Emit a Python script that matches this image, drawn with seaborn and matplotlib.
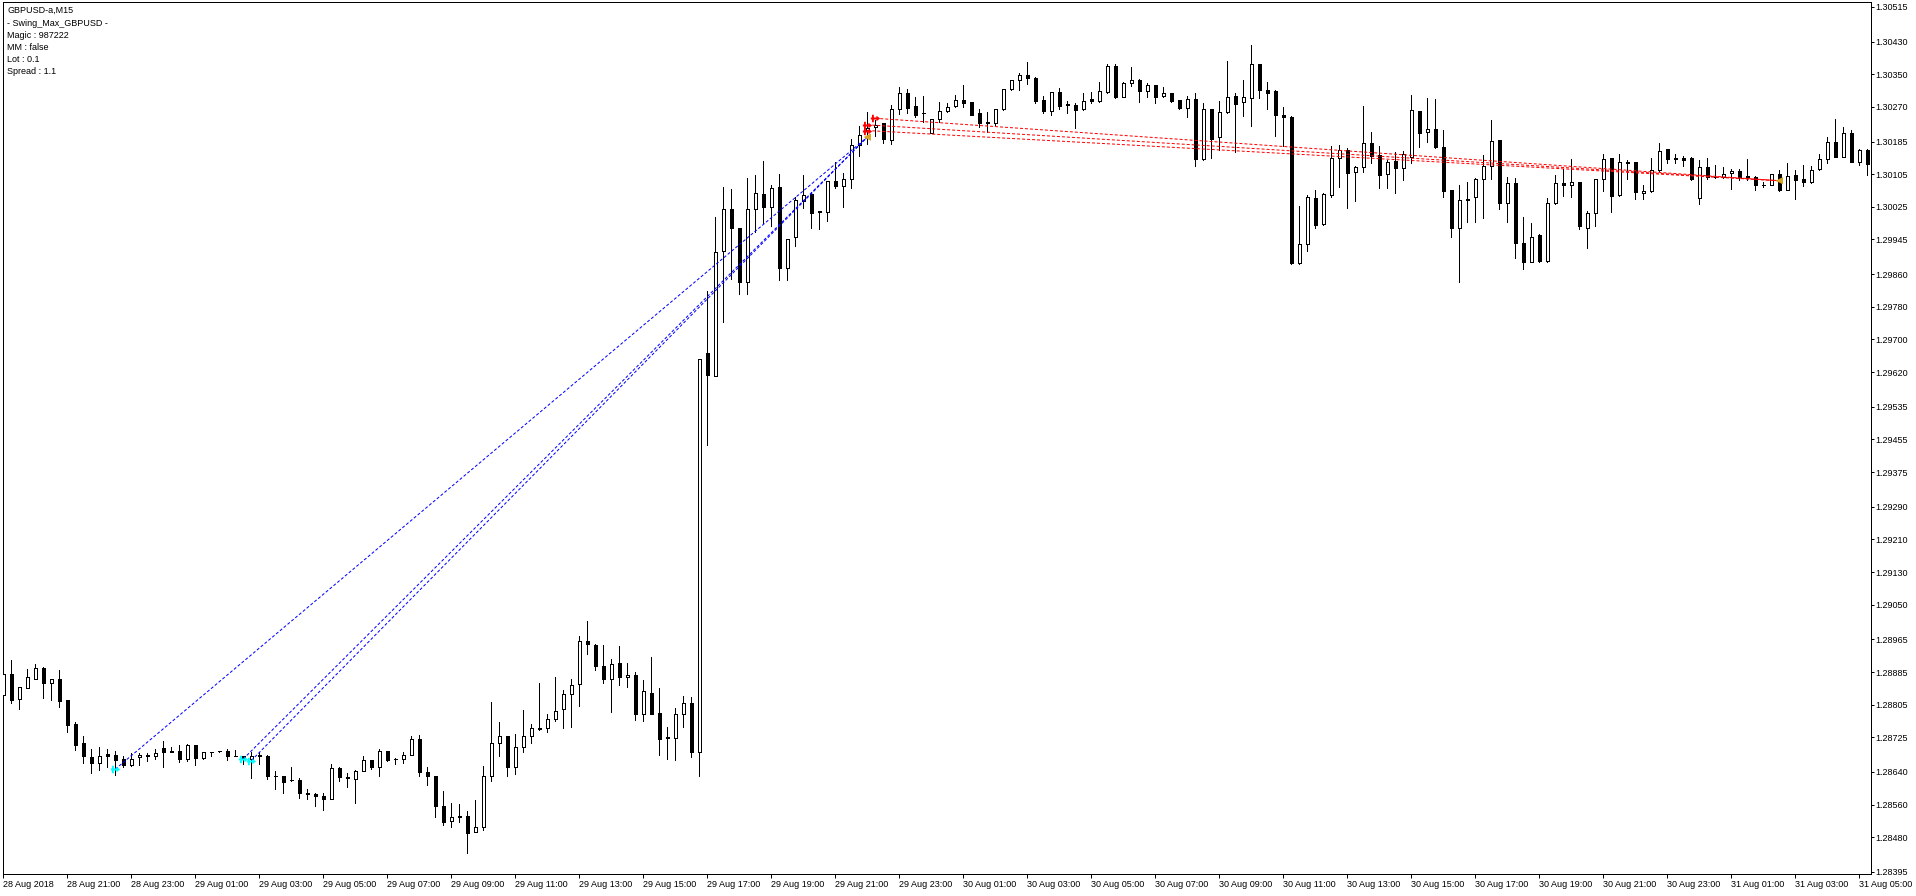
import numpy as np
import pandas as pd
import matplotlib.pyplot as plt
from matplotlib.path import Path
import seaborn as sns

sns.set_style('white')
plt.rcParams['font.family'] = ['Liberation Sans', 'DejaVu Sans']

# GBPUSD M15, bars from 28 Aug 2018 19:00
opens = [1.28828, 1.28879, 1.28818, 1.28847, 1.28867, 1.28894, 1.28857, 1.28867, 1.28816, 1.28758,
         1.28710, 1.28676, 1.28663, 1.28683, 1.28681, 1.28671, 1.28656, 1.28676, 1.28681, 1.28678,
         1.28700, 1.28691, 1.28691, 1.28671, 1.28705, 1.28675, 1.28690, 1.28691, 1.28691, 1.28678,
         1.28678, 1.28671, 1.28681, 1.28679, 1.28630, 1.28629, 1.28620, 1.28620, 1.28588, 1.28586,
         1.28581, 1.28573, 1.28649, 1.28627, 1.28624, 1.28642, 1.28669, 1.28651, 1.28691, 1.28672,
         1.28672, 1.28681, 1.28721, 1.28639, 1.28630, 1.28557, 1.28519, 1.28531, 1.28532, 1.28492,
         1.28504, 1.28629, 1.28710, 1.28728, 1.28652, 1.28701, 1.28728, 1.28745, 1.28749, 1.28769,
         1.28794, 1.28830, 1.28855, 1.28960, 1.28951, 1.28900, 1.28869, 1.28906, 1.28872, 1.28877,
         1.28781, 1.28833, 1.28784, 1.28725, 1.28724, 1.28781, 1.28808, 1.28690, 1.29668, 1.29611,
         1.29916, 1.30019, 1.29972, 1.29840, 1.30019, 1.30057, 1.30025, 1.30074, 1.29874, 1.29950,
         1.30039, 1.30057, 1.30014, 1.30013, 1.30088, 1.30077, 1.30093, 1.30176, 1.30213, 1.30220,
         1.30230, 1.30189, 1.30264, 1.30303, 1.30271, 1.30255, 1.30207, 1.30240, 1.30259, 1.30271,
         1.30286, 1.30283, 1.30254, 1.30233, 1.30230, 1.30264, 1.30313, 1.30335, 1.30348, 1.30341,
         1.30287, 1.30261, 1.30306, 1.30276, 1.30275, 1.30264, 1.30289, 1.30284, 1.30307, 1.30369,
         1.30295, 1.30328, 1.30335, 1.30310, 1.30323, 1.30296, 1.30303, 1.30286, 1.30268, 1.30290,
         1.30142, 1.30264, 1.30197, 1.30258, 1.30297, 1.30283, 1.30291, 1.30374, 1.30311, 1.30309,
         1.30249, 1.30244, 1.29888, 1.29933, 1.30046, 1.29982, 1.30054, 1.30144, 1.30164, 1.30110,
         1.30122, 1.30181, 1.30151, 1.30105, 1.30137, 1.30121, 1.30148, 1.30260, 1.30208, 1.30215,
         1.30171, 1.30066, 1.29972, 1.30044, 1.30048, 1.30093, 1.30125, 1.30189, 1.30034, 1.30083,
         1.29936, 1.29891, 1.29956, 1.29892, 1.30035, 1.30083, 1.30078, 1.30085, 1.29972, 1.30009,
         1.30093, 1.30144, 1.30053, 1.30135, 1.30134, 1.30058, 1.30064, 1.30115, 1.30166, 1.30144,
         1.30145, 1.30145, 1.30046, 1.30122, 1.30099, 1.30097, 1.30107, 1.30113, 1.30100, 1.30099,
         1.30079, 1.30078, 1.30105, 1.30066, 1.30102, 1.30093, 1.30085, 1.30117, 1.30143, 1.30184,
         1.30148, 1.30205, 1.30136, 1.30164]
highs = [1.28932, 1.28915, 1.28848, 1.28892, 1.28904, 1.28898, 1.28867, 1.28890, 1.28816, 1.28763,
         1.28728, 1.28696, 1.28702, 1.28696, 1.28691, 1.28678, 1.28686, 1.28686, 1.28686, 1.28697,
         1.28716, 1.28702, 1.28706, 1.28709, 1.28705, 1.28690, 1.28690, 1.28691, 1.28696, 1.28694,
         1.28680, 1.28689, 1.28689, 1.28682, 1.28643, 1.28629, 1.28653, 1.28625, 1.28598, 1.28589,
         1.28589, 1.28660, 1.28652, 1.28637, 1.28645, 1.28678, 1.28669, 1.28696, 1.28691, 1.28675,
         1.28688, 1.28729, 1.28731, 1.28653, 1.28630, 1.28593, 1.28563, 1.28562, 1.28544, 1.28571,
         1.28655, 1.28812, 1.28762, 1.28728, 1.28734, 1.28793, 1.28757, 1.28858, 1.28781, 1.28873,
         1.28841, 1.28867, 1.28974, 1.29010, 1.28954, 1.28951, 1.28917, 1.28949, 1.28907, 1.28884,
         1.28865, 1.28922, 1.28846, 1.28750, 1.28796, 1.28827, 1.28823, 1.29652, 1.29818, 1.30001,
         1.30073, 1.30069, 1.29972, 1.30096, 1.30103, 1.30137, 1.30079, 1.30106, 1.29945, 1.30050,
         1.30103, 1.30062, 1.30016, 1.30088, 1.30136, 1.30107, 1.30192, 1.30223, 1.30258, 1.30238,
         1.30230, 1.30275, 1.30318, 1.30313, 1.30295, 1.30297, 1.30240, 1.30281, 1.30279, 1.30298,
         1.30324, 1.30283, 1.30264, 1.30258, 1.30265, 1.30313, 1.30336, 1.30354, 1.30379, 1.30343,
         1.30297, 1.30307, 1.30316, 1.30284, 1.30279, 1.30303, 1.30306, 1.30330, 1.30375, 1.30374,
         1.30330, 1.30367, 1.30338, 1.30328, 1.30324, 1.30318, 1.30305, 1.30287, 1.30297, 1.30303,
         1.30279, 1.30264, 1.30285, 1.30383, 1.30305, 1.30335, 1.30422, 1.30375, 1.30330, 1.30311,
         1.30269, 1.30247, 1.30026, 1.30054, 1.30066, 1.30059, 1.30174, 1.30177, 1.30169, 1.30125,
         1.30272, 1.30208, 1.30173, 1.30140, 1.30160, 1.30163, 1.30298, 1.30261, 1.30291, 1.30289,
         1.30213, 1.30066, 1.30079, 1.30087, 1.30096, 1.30152, 1.30238, 1.30189, 1.30097, 1.30095,
         1.30001, 1.29985, 1.29958, 1.30046, 1.30103, 1.30117, 1.30142, 1.30085, 1.30016, 1.30093,
         1.30155, 1.30144, 1.30154, 1.30140, 1.30136, 1.30079, 1.30144, 1.30181, 1.30167, 1.30155,
         1.30150, 1.30147, 1.30140, 1.30145, 1.30127, 1.30122, 1.30117, 1.30118, 1.30142, 1.30101,
         1.30087, 1.30105, 1.30115, 1.30132, 1.30115, 1.30127, 1.30126, 1.30155, 1.30197, 1.30240,
         1.30220, 1.30213, 1.30166, 1.30166]
lows = [1.28825, 1.28808, 1.28795, 1.28845, 1.28867, 1.28822, 1.28816, 1.28800, 1.28739, 1.28694,
        1.28663, 1.28638, 1.28645, 1.28653, 1.28633, 1.28651, 1.28655, 1.28657, 1.28668, 1.28671,
        1.28651, 1.28688, 1.28665, 1.28668, 1.28657, 1.28671, 1.28678, 1.28689, 1.28669, 1.28678,
        1.28659, 1.28626, 1.28659, 1.28624, 1.28598, 1.28589, 1.28619, 1.28577, 1.28575, 1.28557,
        1.28548, 1.28573, 1.28619, 1.28604, 1.28565, 1.28642, 1.28648, 1.28629, 1.28666, 1.28659,
        1.28661, 1.28681, 1.28630, 1.28607, 1.28530, 1.28509, 1.28506, 1.28517, 1.28441, 1.28492,
        1.28498, 1.28619, 1.28678, 1.28629, 1.28636, 1.28690, 1.28711, 1.28743, 1.28737, 1.28765,
        1.28749, 1.28750, 1.28802, 1.28930, 1.28891, 1.28858, 1.28788, 1.28854, 1.28848, 1.28768,
        1.28765, 1.28783, 1.28681, 1.28672, 1.28669, 1.28750, 1.28677, 1.28629, 1.29442, 1.29611,
        1.29743, 1.29849, 1.29811, 1.29812, 1.29964, 1.29985, 1.29977, 1.29846, 1.29846, 1.29930,
        1.30021, 1.29974, 1.29971, 1.29990, 1.30072, 1.30025, 1.30072, 1.30150, 1.30178, 1.30199,
        1.30181, 1.30178, 1.30252, 1.30256, 1.30246, 1.30234, 1.30205, 1.30234, 1.30257, 1.30270,
        1.30269, 1.30249, 1.30220, 1.30208, 1.30226, 1.30262, 1.30311, 1.30311, 1.30325, 1.30279,
        1.30256, 1.30251, 1.30264, 1.30254, 1.30219, 1.30262, 1.30279, 1.30282, 1.30305, 1.30291,
        1.30293, 1.30320, 1.30283, 1.30293, 1.30279, 1.30294, 1.30282, 1.30265, 1.30244, 1.30124,
        1.30140, 1.30144, 1.30164, 1.30256, 1.30160, 1.30248, 1.30224, 1.30291, 1.30264, 1.30199,
        1.30173, 1.29885, 1.29884, 1.29918, 1.29974, 1.29980, 1.30050, 1.30073, 1.30023, 1.30040,
        1.30111, 1.30132, 1.30072, 1.30072, 1.30060, 1.30091, 1.30133, 1.30171, 1.30183, 1.30169,
        1.30048, 1.29952, 1.29842, 1.29989, 1.29989, 1.29997, 1.30093, 1.30019, 1.29989, 1.29899,
        1.29872, 1.29889, 1.29890, 1.29890, 1.30033, 1.30052, 1.30050, 1.29970, 1.29923, 1.29977,
        1.30064, 1.30013, 1.30051, 1.30093, 1.30043, 1.30044, 1.30062, 1.30113, 1.30132, 1.30132,
        1.30124, 1.30091, 1.30031, 1.30094, 1.30095, 1.30095, 1.30068, 1.30091, 1.30091, 1.30066,
        1.30073, 1.30078, 1.30063, 1.30066, 1.30044, 1.30075, 1.30084, 1.30115, 1.30132, 1.30148,
        1.30148, 1.30134, 1.30128, 1.30103]
closes = [1.28879, 1.28816, 1.28848, 1.28872, 1.28894, 1.28857, 1.28867, 1.28815, 1.28756, 1.28707,
          1.28678, 1.28663, 1.28679, 1.28680, 1.28669, 1.28656, 1.28673, 1.28681, 1.28679, 1.28686,
          1.28690, 1.28690, 1.28671, 1.28705, 1.28675, 1.28690, 1.28690, 1.28691, 1.28678, 1.28678,
          1.28675, 1.28678, 1.28678, 1.28629, 1.28629, 1.28616, 1.28620, 1.28588, 1.28586, 1.28581,
          1.28573, 1.28649, 1.28627, 1.28626, 1.28642, 1.28669, 1.28651, 1.28692, 1.28669, 1.28671,
          1.28681, 1.28721, 1.28639, 1.28629, 1.28557, 1.28518, 1.28530, 1.28530, 1.28491, 1.28504,
          1.28629, 1.28710, 1.28729, 1.28652, 1.28701, 1.28729, 1.28747, 1.28749, 1.28769, 1.28790,
          1.28830, 1.28852, 1.28960, 1.28953, 1.28900, 1.28869, 1.28905, 1.28872, 1.28877, 1.28781,
          1.28838, 1.28783, 1.28722, 1.28724, 1.28781, 1.28808, 1.28690, 1.29652, 1.29614, 1.29914,
          1.30019, 1.29972, 1.29842, 1.30019, 1.30058, 1.30025, 1.30070, 1.29874, 1.29945, 1.30041,
          1.30053, 1.30011, 1.30012, 1.30088, 1.30076, 1.30093, 1.30176, 1.30200, 1.30219, 1.30225,
          1.30191, 1.30264, 1.30303, 1.30268, 1.30251, 1.30254, 1.30240, 1.30259, 1.30269, 1.30286,
          1.30280, 1.30251, 1.30231, 1.30230, 1.30265, 1.30313, 1.30335, 1.30348, 1.30340, 1.30284,
          1.30261, 1.30306, 1.30273, 1.30275, 1.30263, 1.30284, 1.30284, 1.30309, 1.30370, 1.30295,
          1.30328, 1.30335, 1.30310, 1.30323, 1.30295, 1.30303, 1.30285, 1.30268, 1.30290, 1.30142,
          1.30264, 1.30192, 1.30257, 1.30293, 1.30278, 1.30293, 1.30374, 1.30311, 1.30305, 1.30249,
          1.30244, 1.29888, 1.29933, 1.30048, 1.29981, 1.30056, 1.30144, 1.30164, 1.30109, 1.30122,
          1.30181, 1.30150, 1.30103, 1.30135, 1.30121, 1.30154, 1.30262, 1.30205, 1.30215, 1.30171,
          1.30065, 1.29972, 1.30042, 1.30042, 1.30093, 1.30125, 1.30186, 1.30034, 1.30083, 1.29937,
          1.29891, 1.29950, 1.29892, 1.30035, 1.30083, 1.30078, 1.30085, 1.29977, 1.30009, 1.30093,
          1.30142, 1.30052, 1.30134, 1.30132, 1.30061, 1.30064, 1.30115, 1.30163, 1.30143, 1.30143,
          1.30141, 1.30093, 1.30122, 1.30099, 1.30097, 1.30106, 1.30113, 1.30099, 1.30099, 1.30078,
          1.30078, 1.30105, 1.30066, 1.30101, 1.30092, 1.30085, 1.30115, 1.30142, 1.30184, 1.30148,
          1.30205, 1.30136, 1.30164, 1.30131]

x_tick_labels = ['28 Aug 2018', '28 Aug 21:00', '28 Aug 23:00',
                 '29 Aug 01:00', '29 Aug 03:00', '29 Aug 05:00', '29 Aug 07:00', '29 Aug 09:00',
                 '29 Aug 11:00', '29 Aug 13:00', '29 Aug 15:00', '29 Aug 17:00', '29 Aug 19:00',
                 '29 Aug 21:00', '29 Aug 23:00',
                 '30 Aug 01:00', '30 Aug 03:00', '30 Aug 05:00', '30 Aug 07:00', '30 Aug 09:00',
                 '30 Aug 11:00', '30 Aug 13:00', '30 Aug 15:00', '30 Aug 17:00', '30 Aug 19:00',
                 '30 Aug 21:00', '30 Aug 23:00',
                 '31 Aug 01:00', '31 Aug 03:00', '31 Aug 05:00']
y_tick_labels = ['1.30515', '1.30430', '1.30350', '1.30270', '1.30185', '1.30105', '1.30025',
                 '1.29945', '1.29860', '1.29780', '1.29700', '1.29620', '1.29535', '1.29455',
                 '1.29375', '1.29290', '1.29210', '1.29130', '1.29050', '1.28965', '1.28885',
                 '1.28805', '1.28725', '1.28640', '1.28560', '1.28480', '1.28395']

info_lines = ['GBPUSD-a,M15', '- Swing_Max_GBPUSD -', 'Magic : 987222',
              'MM : false', 'Lot : 0.1', 'Spread : 1.1']

# trades (bar index, price)
buy_open_bar = [14, 30, 31]
buy_open_price = [1.28647, 1.28672, 1.28668]
buy_close_bar = [108, 108, 108]
buy_close_price = [1.30196, 1.30196, 1.30196]
sell_open_bar = [109, 108, 108]
sell_open_price = [1.30242, 1.30226, 1.30212]
sell_close_bar = [222, 222, 222]
sell_close_price = [1.30089, 1.30089, 1.30089]

df = pd.DataFrame({'open': opens, 'high': highs, 'low': lows, 'close': closes})
df['bar'] = np.arange(len(df))
up = df['close'] >= df['open']

W, H = 1916, 896
fig = plt.figure(figsize=(W / 100, H / 100), dpi=100)
ax = fig.add_axes([2.5 / W, 22 / H, 1868 / W, 872 / H])

px = 0.72  # one pixel in points

# candles
ax.vlines(df['bar'], df['low'], df['high'], color='black', linewidth=px,
          antialiased=False, zorder=2)
ax.bar(df['bar'], df['close'] - df['open'], bottom=df['open'], width=0.45,
       color=np.where(up, 'white', 'black'), edgecolor='black', linewidth=px,
       antialiased=False, zorder=3)

# trade lines
for ob, op, cb, cp in zip(buy_open_bar, buy_open_price, buy_close_bar, buy_close_price):
    ax.plot([ob, cb], [op, cp], color='#0000FF', linewidth=px, linestyle=(0, (3, 2)), zorder=4)
for ob, op, cb, cp in zip(sell_open_bar, sell_open_price, sell_close_bar, sell_close_price):
    ax.plot([ob, cb], [op, cp], color='#FF0000', linewidth=px, linestyle=(0, (3, 2)), zorder=4)

# open arrows: shaft + head + vertical bar
verts = [(-1, -0.22), (0.2, -0.22), (0.2, -0.6), (1, 0), (0.2, 0.6), (0.2, 0.22), (-1, 0.22), (-1, -0.22),
         (-0.75, -0.8), (-0.35, -0.8), (-0.35, 0.8), (-0.75, 0.8), (-0.75, -0.8)]
codes = [Path.MOVETO] + [Path.LINETO] * 6 + [Path.CLOSEPOLY] + [Path.MOVETO] + [Path.LINETO] * 3 + [Path.CLOSEPOLY]
arrow = Path(verts, codes)

ax.scatter(buy_open_bar, buy_open_price, marker=arrow, s=45, color='#00FFFF', linewidths=0, zorder=6)
ax.scatter(sell_open_bar, sell_open_price, marker=arrow, s=45, color='#FF0000', linewidths=0, zorder=6)
sns.scatterplot(x=buy_close_bar[:1] + sell_close_bar[:1], y=buy_close_price[:1] + sell_close_price[:1],
                marker='<', s=28, color='#DAA520', edgecolor='none', ax=ax, zorder=6)

ax.set_xlim(-0.1, 233.4)
ax.set_ylim(1.28390, 1.30527)

ax.set_xticks(np.arange(0, 8 * len(x_tick_labels), 8))
ax.set_xticklabels(x_tick_labels, ha='left')
ax.set_yticks([float(v) for v in y_tick_labels])
ax.set_yticklabels(y_tick_labels)
ax.yaxis.tick_right()
ax.tick_params(axis='y', direction='out', length=2.2, width=px, pad=1.4,
               labelsize=6.5, colors='black', right=True, left=False)
ax.tick_params(axis='x', direction='out', length=3, width=px, pad=1.2,
               labelsize=6.5, colors='black', bottom=True)
for s in ax.spines.values():
    s.set_color('black')
    s.set_linewidth(px)
ax.set_facecolor('white')

for line, y in zip(info_lines, [10, 24, 36, 48, 59, 71]):
    fig.text(7 / W, 1 - y / H, line, fontsize=6.5, ha='left', va='center', color='black')

fig.savefig('out.png', dpi=100, facecolor='white')
